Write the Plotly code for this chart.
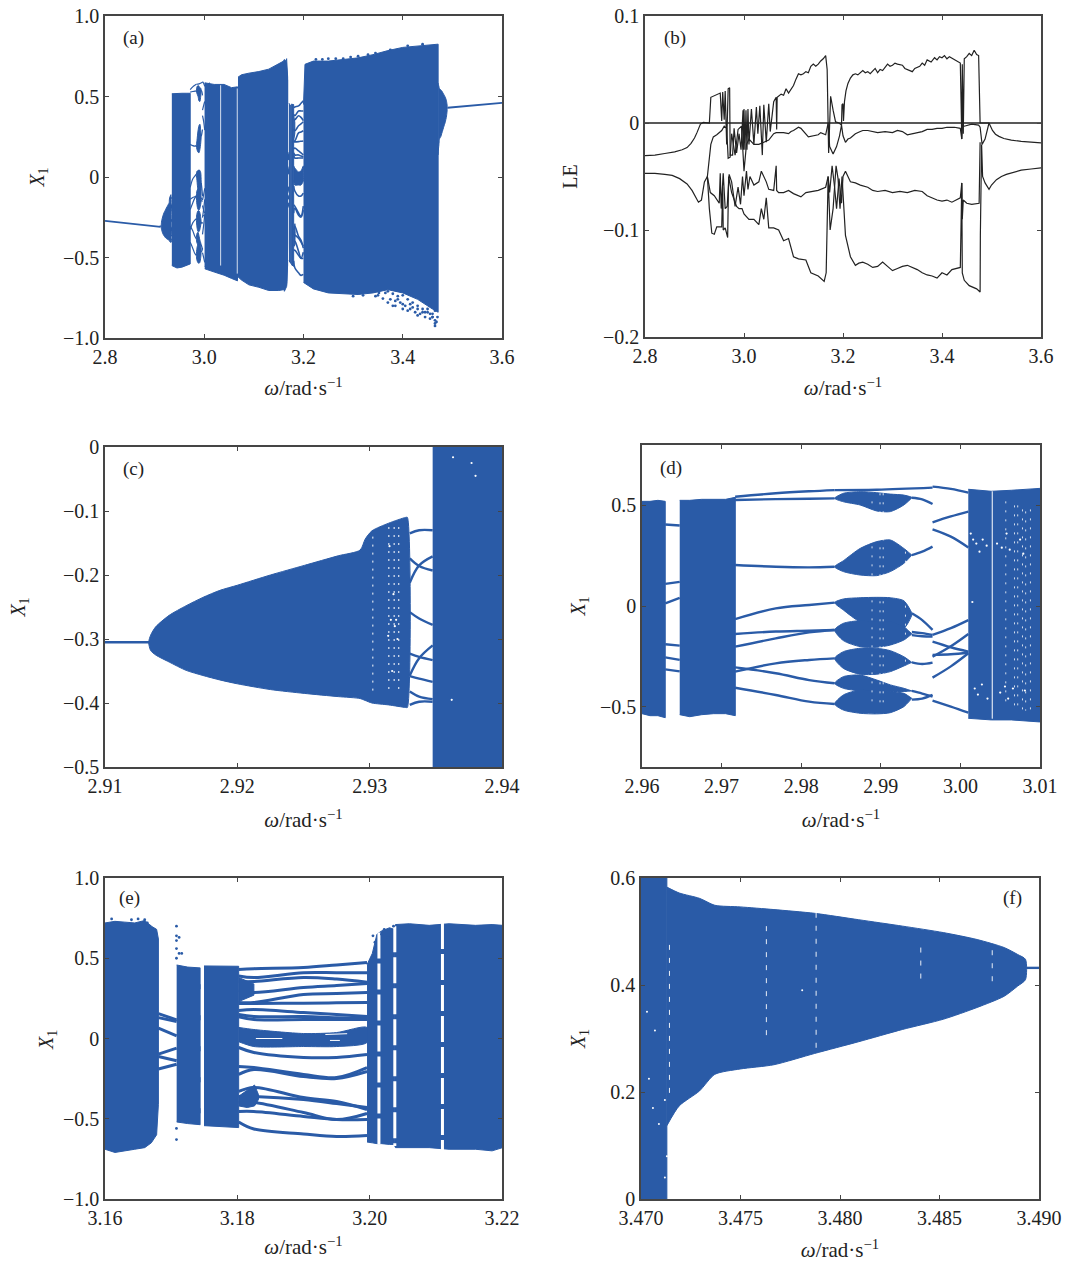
import plotly.graph_objects as go

W, H = 1068, 1263
BLUE = "#2A5BA7"
INK = "#222222"
FRAME = "#454545"
FONT = "Liberation Serif"

# ---------- panel (b): Lyapunov exponents ----------
LE0_X = [2.8, 3.6]
LE0_Y = [0.0, 0.0]
LE1_X = [2.80,2.82,2.84,2.86,2.875,2.885,2.893,2.90,2.905,2.909,2.912,2.918,2.928,2.930,2.933,2.945,2.952,2.955,2.957,2.960,2.962,2.965,2.968,2.971,2.972,2.977,2.980,2.985,2.990,2.994,2.998,2.999,3.000,3.002,3.004,3.006,3.008,3.010,3.015,3.020,3.025,3.028,3.032,3.037,3.040,3.045,3.050,3.053,3.060,3.065,3.066,3.067,3.075,3.080,3.085,3.090,3.095,3.100,3.105,3.110,3.115,3.120,3.125,3.130,3.135,3.140,3.145,3.150,3.155,3.160,3.165,3.168,3.171,3.175,3.180,3.185,3.192,3.197,3.198,3.200,3.201,3.203,3.206,3.210,3.215,3.220,3.225,3.230,3.240,3.245,3.250,3.255,3.265,3.270,3.275,3.280,3.290,3.295,3.300,3.305,3.310,3.320,3.325,3.330,3.340,3.345,3.355,3.360,3.365,3.370,3.378,3.385,3.390,3.395,3.400,3.405,3.410,3.415,3.425,3.430,3.437,3.440,3.441,3.443,3.445,3.450,3.455,3.460,3.465,3.470,3.474,3.477,3.490,3.495,3.498,3.502,3.508,3.515,3.525,3.54,3.56,3.58,3.60]
LE1_Y = [-.0305,-.030,-.0285,-.027,-.025,-.023,-.019,-.014,-.009,-.004,-.001,.0005,.0005,0,.024,.027,.028,.002,.029,.003,.030,-.02,.032,.033,-.03,-.03,-.005,-.028,-.01,-.025,.012,-.025,.013,-.025,.012,-.025,.013,-.02,.013,-.02,.015,-.01,.016,-.03,.017,-.018,.018,-.008,.02,.024,-.006,.024,.027,.026,.032,.028,.031,.035,.041,.046,.045,.046,.048,.047,.053,.055,.053,.055,.058,.060,.063,.05,-.028,.025,.012,.001,0,-.002,.017,.018,.002,.02,.03,.037,.042,.045,.046,.045,.049,.047,.048,.046,.051,.047,.050,.049,.055,.053,.054,.056,.055,.054,.051,.050,.048,.051,.053,.056,.054,.059,.057,.061,.059,.062,.061,.063,.060,.062,.059,.058,.056,-.015,.055,-.01,.06,.062,.065,.063,.068,.064,.063,0,0,0,-.003,-.007,-.0105,-.0125,-.0145,-.016,-.0172,-.018,-.0185]
LE2_X = [2.80,2.82,2.84,2.855,2.87,2.885,2.895,2.90,2.905,2.908,2.914,2.92,2.926,2.93,2.933,2.938,2.945,2.955,2.96,2.965,2.968,2.972,2.975,2.982,2.988,2.995,3.0,3.005,3.01,3.02,3.03,3.04,3.05,3.06,3.065,3.07,3.08,3.09,3.095,3.10,3.11,3.115,3.12,3.13,3.15,3.155,3.165,3.168,3.17,3.173,3.18,3.187,3.193,3.197,3.20,3.205,3.21,3.215,3.225,3.235,3.24,3.25,3.26,3.27,3.285,3.30,3.31,3.32,3.33,3.34,3.35,3.36,3.37,3.38,3.39,3.40,3.41,3.425,3.437,3.44,3.441,3.445,3.46,3.474,3.477,3.481,3.487,3.495]
LE2_Y = [-.047,-.047,-.048,-.049,-.052,-.057,-.063,-.067,-.071,-.074,-.072,-.055,-.05,-.035,-.02,-.013,-.011,-.007,-.003,-.005,-.033,-.032,-.01,-.03,-.006,-.003,-.045,-.02,-.015,-.02,-.02,-.018,-.016,-.01,-.009,-.009,-.009,-.01,-.008,-.007,-.004,-.005,-.008,-.013,-.011,-.009,-.011,-.003,0,-.022,-.029,-.022,-.012,-.002,-.012,-.018,-.015,-.014,-.01,-.008,-.007,-.007,-.008,-.009,-.008,-.009,-.007,-.008,-.011,-.010,-.009,-.008,-.006,-.006,-.005,-.005,-.004,-.004,-.005,-.015,-.002,-.003,-.001,-.002,-.004,-.02,-.015,0]
LE3_X = [2.926,2.932,2.94,2.95,2.952,2.954,2.958,2.962,2.966,2.97,2.975,2.982,2.988,2.993,2.997,3.0,3.005,3.008,3.012,3.02,3.03,3.035,3.045,3.05,3.06,3.065,3.066,3.07,3.08,3.09,3.10,3.115,3.125,3.135,3.15,3.165,3.17,3.173,3.178,3.183,3.187,3.192,3.197,3.20,3.205,3.215,3.225,3.235,3.245,3.25,3.26,3.27,3.285,3.30,3.315,3.33,3.345,3.36,3.37,3.38,3.39,3.40,3.41,3.42,3.437,3.44,3.441,3.443,3.45,3.46,3.475,3.477]
LE3_Y = [-.05,-.065,-.068,-.075,-.047,-.08,-.047,-.08,-.078,-.048,-.055,-.078,-.06,-.076,-.05,-.068,-.045,-.062,-.05,-.058,-.055,-.045,-.055,-.062,-.063,-.04,-.063,-.065,-.065,-.063,-.066,-.069,-.065,-.064,-.063,-.06,-.05,-.065,-.04,-.06,-.08,-.052,-.075,-.05,-.045,-.055,-.056,-.058,-.059,-.06,-.063,-.064,-.063,-.065,-.064,-.065,-.063,-.064,-.068,-.07,-.072,-.073,-.072,-.074,-.07,-.056,-.09,-.072,-.075,-.076,-.075,-.018]
LE4_X = [2.926,2.93,2.935,2.94,2.945,2.955,2.957,2.958,2.962,2.967,2.969,2.975,2.985,2.99,2.996,3.0,3.01,3.02,3.03,3.035,3.04,3.045,3.05,3.06,3.07,3.08,3.09,3.10,3.11,3.125,3.135,3.15,3.162,3.166,3.17,3.174,3.18,3.186,3.19,3.194,3.198,3.202,3.205,3.215,3.225,3.232,3.24,3.25,3.26,3.27,3.28,3.29,3.30,3.31,3.32,3.33,3.34,3.35,3.36,3.37,3.38,3.39,3.40,3.41,3.42,3.43,3.437,3.44,3.441,3.445,3.455,3.47,3.477,3.4775,3.48,3.482,3.487,3.495,3.50,3.51,3.52,3.53,3.545,3.56,3.58,3.60]
LE4_Y = [-.05,-.08,-.103,-.104,-.097,-.097,-.06,-.10,-.098,-.107,-.05,-.065,-.078,-.08,-.08,-.085,-.09,-.09,-.095,-.08,-.09,-.07,-.098,-.098,-.10,-.11,-.108,-.125,-.127,-.128,-.14,-.143,-.148,-.14,-.05,-.10,-.08,-.04,-.052,-.08,-.05,-.09,-.105,-.125,-.133,-.131,-.13,-.132,-.135,-.134,-.13,-.134,-.138,-.136,-.134,-.133,-.135,-.137,-.14,-.142,-.143,-.145,-.14,-.142,-.137,-.136,-.135,-.056,-.14,-.147,-.152,-.155,-.158,-.105,-.02,-.05,-.056,-.062,-.058,-.053,-.05,-.048,-.046,-.044,-.043,-.042]

# ---------- panel (c) ----------
C_LINE_X = [2.91, 2.9134]
C_LINE_Y = [-.305, -.305]
C_BAND_X = [2.9133,2.91345,2.91383,2.91485,2.91613,2.9174,2.91868,2.92,2.9225,2.92506,2.92762,2.92928,2.92966,2.93017,2.93144,2.93272,2.93285]
C_BAND_HI = [-.305,-.294,-.281,-.263,-.248,-.235,-.224,-.216,-.2,-.185,-.17,-.161,-.144,-.131,-.119,-.11,-.11]
C_BAND_LO = [-.305,-.318,-.325,-.336,-.349,-.357,-.364,-.370,-.379,-.385,-.39,-.393,-.396,-.40,-.403,-.407,-.407]
C_CHAOS_X = [2.93476, 2.9401]
C_CHAOS_HI = [.002, .002]
C_CHAOS_LO = [-.502, -.502]
C_BR_X = [2.93303, 2.93374, 2.93476]
C_BR1 = [-.135, -.13, -.13]
C_BR2 = [-.174, -.186, -.193]
C_BR3 = [-.212, -.185, -.171]
C_BR4 = [-.258, -.268, -.278]
C_BR5 = [-.357, -.33, -.31]
C_BR6 = [-.323, -.328, -.333]
C_BR7 = [-.358, -.362, -.367]
C_BR8 = [-.382, -.39, -.394]
C_BR9 = [-.403, -.398, -.398]
C_GAP_X = [2.93024, 2.93145, 2.93185, 2.9322]
C_GAP_HI = [-.14, -.125, -.125, -.125]
C_GAP_LO = [-.385, -.385, -.375, -.38]
C_SPECK_X = [2.9315,2.9318,2.9320,2.9316,2.9319,2.9314,2.9321,2.9317,2.9363,2.9377,2.9380,2.9362]
C_SPECK_Y = [-.155,-.23,-.27,-.27,-.28,-.295,-.30,-.35,-.016,-.025,-.045,-.395]

# ---------- panel (d) ----------
D_BAND1_X = [2.96, 2.9610, 2.9620, 2.96292]
D_BAND1_HI = [.52, .52, .525, .52]
D_BAND1_LO = [-.535, -.545, -.545, -.555]
D_BAND2_X = [2.96474,2.9660,2.9675,2.9690,2.9705,2.97172]
D_BAND2_HI = [.525,.525,.53,.53,.53,.54]
D_BAND2_LO = [-.54,-.55,-.54,-.535,-.535,-.545]
D_BAND3_X = [3.00099,3.00387,3.0064,3.00992,3.0102]
D_BAND3_HI = [.58,.57,.575,.585,.585]
D_BAND3_LO = [-.558,-.566,-.566,-.576,-.576]
D_LINK_X = [2.96292, 2.96474]
D_LINK1 = [.405, .40]
D_LINK2 = [.11, .12]
D_LINK3 = [.013, .04]
D_LINK4 = [-.19, -.197]
D_LINK5 = [-.255, -.268]
D_LINK6 = [-.315, -.325]
D_MID_X = [2.9717, 2.9768, 2.9810, 2.9842]
D_MID1 = [.543, .56, .57, .576]
D_MID2 = [.527, .531, .533, .535]
D_MID3 = [.204, .195, .192, .195]
D_MID4 = [-.065, -.012, .005, .017]
D_MID5 = [-.139, -.127, -.123, -.119]
D_MID6 = [-.202, -.161, -.131, -.119]
D_MID7 = [-.326, -.285, -.268, -.26]
D_MID8 = [-.305, -.334, -.368, -.384]
D_MID9 = [-.406, -.442, -.475, -.487]
D_TOP_X = [2.9842, 2.9895, 2.9965]
D_TOP_Y = [.576, .578, .588]
D_LOBE_X = [2.9842, 2.9853, 2.9874, 2.9895, 2.9912, 2.9929, 2.9939]
D_L1_HI = [.535,.56,.568,.563,.556,.551,.54]
D_L1_LO = [.535,.518,.502,.472,.469,.502,.538]
D_L2_HI = [.195,.225,.286,.32,.328,.286,.253]
D_L2_LO = [.195,.171,.154,.151,.171,.212,.253]
D_L3_HI = [.017,.035,.041,.043,.041,.026,-.036]
D_L3_LO = [.017,-.02,-.078,-.086,-.103,-.111,-.045]
D_L4_HI = [-.119,-.086,-.073,-.078,-.078,-.103,-.139]
D_L4_LO = [-.119,-.172,-.202,-.205,-.194,-.169,-.139]
D_L5_HI = [-.26,-.227,-.21,-.21,-.222,-.252,-.28]
D_L5_LO = [-.26,-.31,-.339,-.339,-.326,-.298,-.28]
D_L6_HI = [-.384,-.351,-.343,-.368,-.392,-.409,-.422]
D_L6_LO = [-.384,-.409,-.422,-.429,-.425,-.425,-.422]
D_L7_HI = [-.487,-.442,-.417,-.425,-.425,-.434,-.459]
D_L7_LO = [-.487,-.517,-.533,-.536,-.53,-.5,-.459]
D_AFT_X = [2.9939, 2.9952, 2.9965]
D_AFT1 = [.538, .53, .507]
D_AFT2 = [.253, .27, .295]
D_AFT3 = [-.036, -.07, -.119]
D_AFT4 = [-.129, -.135, -.144]
D_AFT5 = [-.145, -.15, -.152]
D_AFT6 = [-.28, -.288, -.281]
D_AFT7 = [-.422, -.435, -.45]
D_AFT8 = [-.465, -.46, -.442]
D_END_X = [2.9965, 2.9988, 3.0010]
D_END1 = [.593, .582, .563]
D_END2 = [.416, .445, .469]
D_END3 = [.381, .345, .291]
D_END4 = [-.144, -.11, -.07]
D_END5 = [-.252, -.20, -.139]
D_END6 = [-.177, -.205, -.227]
D_END7 = [-.243, -.24, -.232]
D_END8 = [-.356, -.30, -.235]
D_END9 = [-.47, -.50, -.53]
D_GAP_X = [2.9889, 2.9899, 2.9903, 2.9931, 3.0057, 3.0068, 3.0072, 3.0078, 3.0082, 3.0088]
D_GAP_HI = [.52, .56, .56, .27, .52, .50, .50, .48, .47, .48]
D_GAP_LO = [-.5, -.5, -.5, -.34, -.50, -.50, -.52, -.52, -.52, -.52]
D_SOLID_X = [3.0040]
D_SOLID_HI = [.57]
D_SOLID_LO = [-.56]
D_SPECK_X = [3.0013,3.0016,3.0020,3.0024,3.0028,3.0033,3.0046,3.0052,3.0058,3.0062,3.0018,3.0022,3.0027,3.0034,3.0050,3.0056,3.0060,3.0066,3.0079,3.0081,3.0015,3.0075]
D_SPECK_Y = [.36,.33,.31,.27,.33,.30,.31,.29,.36,.28,-.41,-.44,-.39,-.46,-.43,-.40,-.46,-.41,.26,-.42,.02,.33]

# ---------- panel (e) ----------
E_BAND1_X = [3.16,3.1615,3.1630,3.1645,3.1660,3.1670,3.1678,3.16807]
E_BAND1_HI = [.72,.73,.725,.72,.735,.70,.68,.62]
E_BAND1_LO = [-.69,-.71,-.70,-.69,-.68,-.65,-.60,-.41]
E_BAND2_X = [3.17083, 3.1725, 3.1744]
E_BAND2_HI = [.458, .445, .44]
E_BAND2_LO = [-.52, -.53, -.537]
E_BAND3_X = [3.17496, 3.1775, 3.1802]
E_BAND3_HI = [.452, .452, .45]
E_BAND3_LO = [-.543, -.55, -.555]
E_BAND4_X = [3.1996, 3.2004, 3.2011, 3.2018, 3.2030, 3.2037]
E_BAND4_HI = [.46, .53, .65, .67, .69, .68]
E_BAND4_LO = [-.645, -.65, -.655, -.655, -.66, -.66]
E_BAND5_X = [3.2037, 3.2039, 3.2060, 3.2090, 3.2120, 3.2160, 3.2185, 3.2201]
E_BAND5_HI = [.68, .71, .715, .705, .715, .705, .71, .705]
E_BAND5_LO = [-.66, -.68, -.68, -.68, -.69, -.69, -.70, -.68]
E_GAP_X = [3.1747, 3.2014, 3.2038, 3.2110]
E_GAP_HI = [.50, .66, .70, .72]
E_GAP_LO = [-.56, -.66, -.67, -.70]
E_LINK_X = [3.16807, 3.17083]
E_LINK1 = [.155, .116]
E_LINK2 = [.13, .106]
E_LINK3 = [.064, .017]
E_LINK4 = [-.097, -.06]
E_LINK5 = [-.112, -.139]
E_LINK6 = [-.19, -.16]
E_X = [3.1802, 3.1825, 3.1900, 3.1950, 3.1996]
E_L1 = [.43, .435, .442, .458, .473]
E_L2 = [.39, .38, .41, .41, .41]
E_L3 = [.355, .355, .38, .37, .35]
E_L4 = [.30, .287, .318, .33, .343]
E_L5 = [.224, .224, .274, .28, .287]
E_L7 = [.218, .218, .22, .222, .224]
E_L8 = [.174, .18, .162, .15, .137]
E_L9 = [.15, .137, .137, .13, .125]
E_L10 = [.135, .118, .118, .118, .118]
E_L13 = [-.056, -.087, -.118, -.118, -.10]
E_L14 = [-.174, -.181, -.224, -.243, -.181]
E_L15 = [-.224, -.193, -.237, -.249, -.206]
E_L16 = [-.33, -.305, -.368, -.393, -.442]
E_L17 = [-.361, -.361, -.38, -.405, -.43]
E_L18 = [-.399, -.399, -.461, -.505, -.467]
E_L19 = [-.455, -.455, -.486, -.505, -.505]
E_L20 = [-.52, -.564, -.595, -.611, -.605]
E_LENS_HI = [.069, .056, .031, .037, .069]
E_LENS_LO = [-.02, -.05, -.05, -.05, -.025]
E_BLOB_X = [3.1802, 3.1815, 3.1826, 3.1832]
E_BLOB_HI = [-.36, -.32, -.29, -.35]
E_BLOB_LO = [-.42, -.43, -.42, -.38]
E_STUB_X = [3.1802, 3.1825]
E_STUB_HI = [.38, .34]
E_STUB_LO = [.23, .27]
E_SLIT_X = [3.1828, 3.1868, 3.1933, 3.1966, 3.1940, 3.1955]
E_SLIT_Y = [.0, .0, .025, .03, -.012, -.012]
E_DOT_X = [3.1708,3.1708,3.1708,3.1712,3.1716,3.1712,3.1708,3.1708,3.1708,3.1708,3.1610,3.1640,3.1650,3.1660,3.1664,3.1668,3.2005,3.2008,3.2018,3.2022,3.2028,3.2036]
E_DOT_Y = [.70,.64,.61,.63,.53,.53,.56,.50,-.56,-.63,.745,.74,.745,.74,.72,.70,.64,.60,.65,.68,.63,.70]

# ---------- panel (f) ----------
F_BAND0_X = [3.47, 3.4713]
F_BAND0_HI = [.602, .602]
F_BAND0_LO = [-.001, -.001]
F_LOBE_X = [3.4713,3.47192,3.47294,3.47371,3.47498,3.47668,3.47872,3.48094,3.48315,3.48519,3.48689,3.48825,3.48893,3.48932]
F_LOBE_HI = [.583,.572,.562,.549,.546,.541,.534,.522,.51,.498,.485,.47,.457,.448]
F_LOBE_LO = [.137,.174,.202,.233,.243,.251,.272,.294,.317,.336,.358,.379,.398,.41]
F_LINE_X = [3.48932, 3.49]
F_LINE_Y = [.432, .432]
F_GAP_X = [3.47143, 3.4763, 3.4788, 3.48406, 3.48765]
F_GAP_HI = [.475, .51, .535, .47, .465]
F_GAP_LO = [.195, .295, .275, .41, .40]
F_SPECK_X = [3.4703, 3.4707, 3.4704, 3.4706, 3.4713, 3.4709, 3.4712, 3.4781, 3.4712]
F_SPECK_Y = [.35, .315, .225, .17, .08, .14, .185, .39, .04]

# ---------- panel (a) ----------
A_LEFT_X = [2.80, 2.85, 2.912]
A_LEFT_Y = [-.273, -.29, -.31]
A_RIGHT_X = [3.49, 3.55, 3.60]
A_RIGHT_Y = [.43, .445, .461]
A_B1_X = [2.9347, 2.945, 2.955, 2.965, 2.9717]
A_B1_HI = [.517, .52, .52, .52, .52]
A_B1_LO = [-.55, -.565, -.56, -.55, -.54]
A_B2_X = [3.001, 3.02, 3.04, 3.055, 3.067]
A_B2_HI = [.585, .575, .575, .555, .56]
A_B2_LO = [-.57, -.59, -.61, -.63, -.645]
A_B3_X = [3.068, 3.075, 3.09, 3.11, 3.13, 3.15, 3.16, 3.165, 3.168]
A_B3_HI = [.62, .635, .645, .655, .67, .70, .72, .71, .60]
A_B3_LO = [-.62, -.64, -.67, -.685, -.705, -.705, -.70, -.67, -.55]
A_B4_X = [3.2, 3.203, 3.22, 3.25, 3.28, 3.31, 3.34, 3.37, 3.40, 3.43, 3.46, 3.4713]
A_B4_HI = [.45, .70, .72, .72, .73, .74, .76, .785, .805, .815, .825, .825]
A_B4_LO = [-.655, -.665, -.695, -.72, -.725, -.73, -.72, -.70, -.72, -.76, -.82, -.84]
A_GAP_X = [3.033, 3.0665]
A_GAP_HI = [.57, .55]
A_GAP_LO = [-.55, -.60]
A_DOT_X = [3.345,3.352,3.36,3.365,3.37,3.375,3.38,3.385,3.39,3.395,3.40,3.405,3.41,3.415,3.42,3.425,3.43,3.435,3.44,3.445,3.45,3.455,3.46,3.465,3.468,3.37,3.38,3.39,3.40,3.41,3.42,3.43,3.44,3.45,3.46,3.465,3.465,3.465,3.47,3.25,3.28,3.31,3.33,3.35,3.238,3.30,3.32,3.385,3.40,3.415,3.43,3.445,3.455,3.46,3.35,3.225,3.265,3.295,3.345,3.375,3.41,3.44]
A_DOT_Y = [-.74,-.72,-.755,-.72,-.71,-.76,-.725,-.77,-.74,-.78,-.735,-.80,-.76,-.82,-.78,-.84,-.80,-.85,-.82,-.87,-.84,-.88,-.85,-.925,-.90,-.78,-.80,-.76,-.79,-.83,-.81,-.86,-.84,-.82,-.87,-.83,-.91,-.89,-.87,.735,.735,.75,.76,.755,.73,-.74,-.735,-.80,-.82,-.79,-.82,-.84,-.85,-.87,-.735,.73,.735,.745,.77,.79,.815,.825]

# ---------- axes and tick labels ----------
A_XT = [2.8, 3.0, 3.2, 3.4, 3.6]
A_XL = ["2.8", "3.0", "3.2", "3.4", "3.6"]
A_YT = [-1.0, -0.5, 0, 0.5, 1.0]
A_YL = ["−1.0", "−0.5", "0", "0.5", "1.0"]
B_YT = [-0.2, -0.1, 0, 0.1]
B_YL = ["−0.2", "−0.1", "0", "0.1"]
C_XT = [2.91, 2.92, 2.93, 2.94]
C_XL = ["2.91", "2.92", "2.93", "2.94"]
C_YT = [-0.5, -0.4, -0.3, -0.2, -0.1, 0]
C_YL = ["−0.5", "−0.4", "−0.3", "−0.2", "−0.1", "0"]
D_XT = [2.96, 2.97, 2.98, 2.99, 3.00, 3.01]
D_XL = ["2.96", "2.97", "2.98", "2.99", "3.00", "3.01"]
D_YT = [-0.5, 0, 0.5]
D_YL = ["−0.5", "0", "0.5"]
E_XT = [3.16, 3.18, 3.20, 3.22]
E_XL = ["3.16", "3.18", "3.20", "3.22"]
F_XT = [3.47, 3.475, 3.48, 3.485, 3.49]
F_XL = ["3.470", "3.475", "3.480", "3.485", "3.490"]
F_YT = [0, 0.2, 0.4, 0.6]
F_YL = ["0", "0.2", "0.4", "0.6"]

XTITLE = "<i>ω</i>/rad·s<sup>−1</sup>"
YTITLE = "<i>X</i><sub>1</sub>"

fig = go.Figure()


def band(p, x, hi, lo, lw=1.0, smooth=False):
    shape = dict(shape="spline", smoothing=0.7) if smooth else {}
    fig.add_trace(go.Scatter(
        x=list(x) + list(x)[::-1], y=list(hi) + list(lo)[::-1],
        xaxis=f"x{p}", yaxis=f"y{p}", mode="lines", fill="toself",
        fillcolor=BLUE, line=dict(color=BLUE, width=lw, **shape),
        hoverinfo="skip", showlegend=False, cliponaxis=False))


def curve(p, x, y, w=2.4, color=BLUE, spline=True):
    fig.add_trace(go.Scatter(
        x=x, y=y, xaxis=f"x{p}", yaxis=f"y{p}", mode="lines",
        line=dict(color=color, width=w, shape="spline" if spline else "linear"),
        hoverinfo="skip", showlegend=False))


def dots(p, x, y, size=2.6, color=BLUE):
    fig.add_trace(go.Scatter(
        x=x, y=y, xaxis=f"x{p}", yaxis=f"y{p}", mode="markers",
        marker=dict(color=color, size=size, line=dict(width=0)),
        hoverinfo="skip", showlegend=False, cliponaxis=False))


def gaps(p, xs, his, los, w=1.2, dash="solid"):
    gx, gy = [], []
    for x, h, l in zip(xs, his, los):
        gx += [x, x, None]
        gy += [h, l, None]
    fig.add_trace(go.Scatter(
        x=gx, y=gy, xaxis=f"x{p}", yaxis=f"y{p}", mode="lines",
        line=dict(color="white", width=w, dash=dash),
        hoverinfo="skip", showlegend=False))


def draw_c(p, w):
    curve(p, C_LINE_X, C_LINE_Y, w)
    band(p, C_BAND_X, C_BAND_HI, C_BAND_LO, smooth=True)
    for b in (C_BR1, C_BR2, C_BR3, C_BR4, C_BR5, C_BR6, C_BR7, C_BR8, C_BR9):
        curve(p, C_BR_X, b, w)


def draw_d(p, w):
    for x, y in [(D_LINK_X, D_LINK1), (D_LINK_X, D_LINK2), (D_LINK_X, D_LINK3), (D_LINK_X, D_LINK4),
                 (D_LINK_X, D_LINK5), (D_LINK_X, D_LINK6),
                 (D_MID_X, D_MID1), (D_MID_X, D_MID2), (D_MID_X, D_MID3), (D_MID_X, D_MID4),
                 (D_MID_X, D_MID5), (D_MID_X, D_MID6), (D_MID_X, D_MID7), (D_MID_X, D_MID8),
                 (D_MID_X, D_MID9), (D_TOP_X, D_TOP_Y),
                 (D_AFT_X, D_AFT1), (D_AFT_X, D_AFT2), (D_AFT_X, D_AFT3), (D_AFT_X, D_AFT4),
                 (D_AFT_X, D_AFT5), (D_AFT_X, D_AFT6), (D_AFT_X, D_AFT7), (D_AFT_X, D_AFT8),
                 (D_END_X, D_END1), (D_END_X, D_END2), (D_END_X, D_END3), (D_END_X, D_END4),
                 (D_END_X, D_END5), (D_END_X, D_END6), (D_END_X, D_END7), (D_END_X, D_END8),
                 (D_END_X, D_END9)]:
        curve(p, x, y, w)
    for hi, lo in [(D_L1_HI, D_L1_LO), (D_L2_HI, D_L2_LO), (D_L3_HI, D_L3_LO), (D_L4_HI, D_L4_LO),
                   (D_L5_HI, D_L5_LO), (D_L6_HI, D_L6_LO), (D_L7_HI, D_L7_LO)]:
        band(p, D_LOBE_X, hi, lo, smooth=True)


def draw_e(p, w):
    for x, y in [(E_LINK_X, E_LINK1), (E_LINK_X, E_LINK2), (E_LINK_X, E_LINK3),
                 (E_LINK_X, E_LINK4), (E_LINK_X, E_LINK5), (E_LINK_X, E_LINK6)]:
        curve(p, x, y, w)
    for y in (E_L1, E_L2, E_L3, E_L4, E_L5, E_L7, E_L8, E_L9, E_L10, E_L13, E_L14, E_L15,
              E_L16, E_L17, E_L18, E_L19, E_L20):
        curve(p, E_X, y, w)
    band(p, E_X, E_LENS_HI, E_LENS_LO, smooth=True)
    band(p, E_BLOB_X, E_BLOB_HI, E_BLOB_LO)
    band(p, E_STUB_X, E_STUB_HI, E_STUB_LO)
    band(p, E_BAND1_X, E_BAND1_HI, E_BAND1_LO)
    band(p, E_BAND2_X, E_BAND2_HI, E_BAND2_LO)
    band(p, E_BAND3_X, E_BAND3_HI, E_BAND3_LO)


# (a)
curve(1, A_LEFT_X, A_LEFT_Y, 1.8, spline=False)
curve(1, A_RIGHT_X, A_RIGHT_Y, 1.8, spline=False)
draw_c(1, 1.2)
draw_d(1, 1.2)
draw_e(1, 1.6)
band(1, F_LOBE_X, F_LOBE_HI, F_LOBE_LO, smooth=True)
band(1, A_B1_X, A_B1_HI, A_B1_LO)
band(1, A_B2_X, A_B2_HI, A_B2_LO)
band(1, A_B3_X, A_B3_HI, A_B3_LO)
band(1, A_B4_X, A_B4_HI, A_B4_LO)
band(1, D_BAND3_X, D_BAND3_HI, D_BAND3_LO)
gaps(1, A_GAP_X, A_GAP_HI, A_GAP_LO, 0.8)
dots(1, A_DOT_X, A_DOT_Y, 2.8)

# (b)
for x, y in [(LE1_X, LE1_Y), (LE2_X, LE2_Y), (LE3_X, LE3_Y), (LE4_X, LE4_Y)]:
    curve(2, x, y, 1.2, INK, spline=False)
curve(2, LE0_X, LE0_Y, 1.3, INK, spline=False)

# (c)
draw_c(3, 2.4)
band(3, C_CHAOS_X, C_CHAOS_HI, C_CHAOS_LO)
gaps(3, C_GAP_X, C_GAP_HI, C_GAP_LO, 1.0, "2px,6px")
dots(3, C_SPECK_X, C_SPECK_Y, 2.2, "white")

# (d)
draw_d(4, 2.4)
band(4, D_BAND1_X, D_BAND1_HI, D_BAND1_LO)
band(4, D_BAND2_X, D_BAND2_HI, D_BAND2_LO)
band(4, D_BAND3_X, D_BAND3_HI, D_BAND3_LO)
gaps(4, D_GAP_X, D_GAP_HI, D_GAP_LO, 0.8, "2px,7px")
gaps(4, D_SOLID_X, D_SOLID_HI, D_SOLID_LO, 1.0)
dots(4, D_SPECK_X, D_SPECK_Y, 2.2, "white")

# (e)
draw_e(5, 3.0)
band(5, E_BAND4_X, E_BAND4_HI, E_BAND4_LO)
band(5, E_BAND5_X, E_BAND5_HI, E_BAND5_LO)
gaps(5, E_GAP_X, E_GAP_HI, E_GAP_LO, 3, "26px,5px")
curve(5, E_SLIT_X[:2], E_SLIT_Y[:2], 1.0, "white", spline=False)
curve(5, E_SLIT_X[2:4], E_SLIT_Y[2:4], 1.0, "white", spline=False)
curve(5, E_SLIT_X[4:], E_SLIT_Y[4:], 1.0, "white", spline=False)
dots(5, E_DOT_X, E_DOT_Y, 2.8)

# (f)
band(6, F_BAND0_X, F_BAND0_HI, F_BAND0_LO)
band(6, F_LOBE_X, F_LOBE_HI, F_LOBE_LO, smooth=True)
curve(6, F_LINE_X, F_LINE_Y, 2.4, spline=False)
gaps(6, F_GAP_X, F_GAP_HI, F_GAP_LO, 0.9, "5px,8px")
dots(6, F_SPECK_X, F_SPECK_Y, 2.0, "white")

# layout: pixel boxes of the six panels (left, right, top, bottom)
BOXES = {1: (105, 502, 16, 338), 2: (645, 1041, 16, 337), 3: (105, 502, 447, 767),
         4: (642, 1040, 445, 767), 5: (105, 502, 878, 1199), 6: (641, 1039, 878, 1199)}
RANGES = {1: ((2.8, 3.6), (-1, 1)), 2: ((2.8, 3.6), (-.2, .1)), 3: ((2.91, 2.94), (-.5, 0)),
          4: ((2.96, 3.01), (-.8, .8)), 5: ((3.16, 3.22), (-1, 1)), 6: ((3.47, 3.49), (0, .6))}
XTICKS = {1: (A_XT, A_XL), 2: (A_XT, A_XL), 3: (C_XT, C_XL), 4: (D_XT, D_XL), 5: (E_XT, E_XL), 6: (F_XT, F_XL)}
YTICKS = {1: (A_YT, A_YL), 2: (B_YT, B_YL), 3: (C_YT, C_YL), 4: (D_YT, D_YL), 5: (A_YT, A_YL), 6: (F_YT, F_YL)}
YLABEL = {1: YTITLE, 2: "LE", 3: YTITLE, 4: YTITLE, 5: None, 6: YTITLE}
YSTAND = {1: 13, 2: 20, 3: 32, 4: 9, 5: 0, 6: 19}
XSTAND = {1: 14, 2: 15, 3: 17, 4: 17, 5: 12, 6: 15}

axes = {}
for p, (l, r, t, b) in BOXES.items():
    common = dict(showline=True, mirror="ticks", linecolor=FRAME, linewidth=1.6,
                  ticks="inside", ticklen=4, tickwidth=1, tickcolor=FRAME,
                  showgrid=False, zeroline=False, tickmode="array", automargin=False,
                  tickfont=dict(family=FONT, size=20, color=INK))
    axes[f"xaxis{p}"] = dict(common, domain=[l / W, r / W], range=list(RANGES[p][0]), anchor=f"y{p}",
                             tickvals=XTICKS[p][0], ticktext=XTICKS[p][1], tickangle=0,
                             title=dict(text=XTITLE, standoff=XSTAND[p], font=dict(family=FONT, size=21, color=INK)))
    axes[f"yaxis{p}"] = dict(common, domain=[1 - b / H, 1 - t / H], range=list(RANGES[p][1]), anchor=f"x{p}",
                             tickvals=YTICKS[p][0], ticktext=YTICKS[p][1],
                             title=dict(text=YLABEL[p] or "", standoff=YSTAND[p],
                                        font=dict(family=FONT, size=20, color=INK)))

LABELS = [("(a)", 133, 38), ("(b)", 675, 38), ("(c)", 133, 469), ("(d)", 671, 468), ("(e)", 129, 898), ("(f)", 1012, 898)]
ann = [dict(text=t, x=px / W, y=1 - py / H, xref="paper", yref="paper", showarrow=False,
            xanchor="center", yanchor="middle",
            font=dict(family=FONT, size=19, color=INK)) for t, px, py in LABELS]
ann.append(dict(text=YTITLE, x=47 / W, y=1 - 1040 / H, xref="paper", yref="paper", showarrow=False,
                xanchor="center", yanchor="middle", textangle=-90,
                font=dict(family=FONT, size=20, color=INK)))

fig.update_layout(width=W, height=H, margin=dict(l=0, r=0, t=0, b=0), paper_bgcolor="white",
                  plot_bgcolor="white", showlegend=False, annotations=ann, **axes)
fig.write_html("out.html", config=dict(displayModeBar=False),
               post_script="document.body.style.margin='0';document.body.style.overflow='hidden';")
